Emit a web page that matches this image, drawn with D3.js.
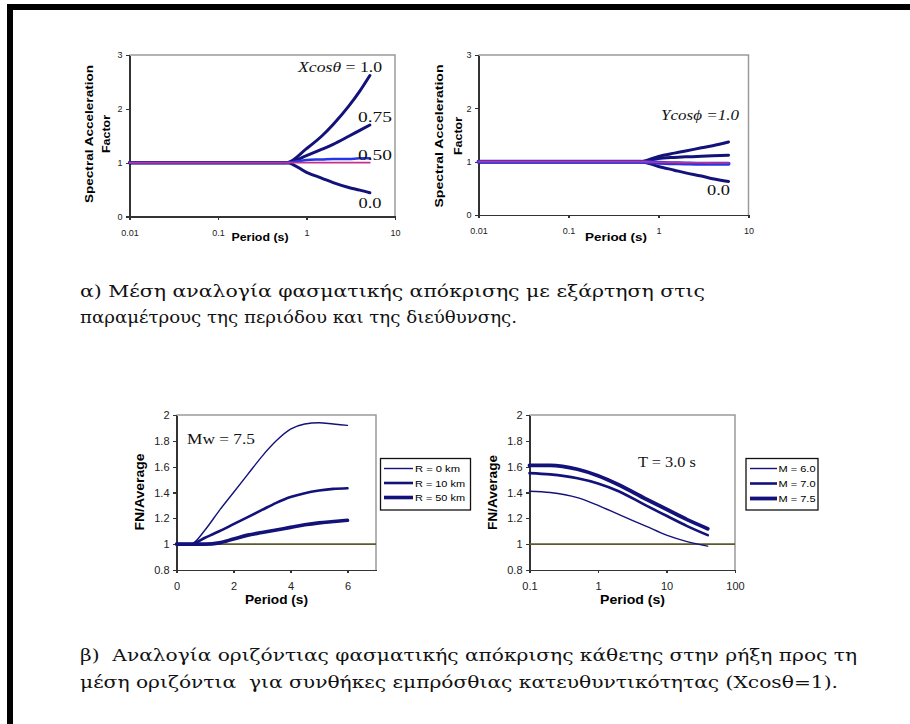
<!DOCTYPE html>
<meta charset="utf-8">
<style>
body { margin: 0; background: #fff; }
svg { display: block; font-family: Arial, "Liberation Sans", sans-serif; }
.axis path, .axis line { stroke: #333; stroke-width: 1.2; shape-rendering: crispEdges; }
.axis text { fill: #222; font-family: Arial, "Liberation Sans", sans-serif; }
.curve { fill: none; stroke-linecap: round; stroke-linejoin: round; }
.serif { font-family: "Liberation Serif", "DejaVu Serif", "Times New Roman", serif; fill: #111; }
.greek { font-family: "DejaVu Serif", "Liberation Serif", serif; fill: #111; }
</style>
<body>
<svg id="chart" width="910" height="724"></svg>
<script src="https://cdn.jsdelivr.net/npm/d3@7"></script>
<script>
// ---------- values ----------
// (a) left: spectral acceleration factor vs period, by Xcos(theta)
var periodsA = [0.01, 0.6, 1, 1.5, 2, 3, 4, 5.2];
var xcos100  = [1, 1, 1.26, 1.50, 1.71, 2.05, 2.33, 2.62];
var xcos075  = [1, 1, 1.13, 1.25, 1.34, 1.49, 1.60, 1.70];
var xcos050  = [1, 1, 1.05, 1.06, 1.07, 1.07, 1.08, 1.08];
var xcosRef  = [1, 1, 1, 1, 1, 1, 1, 1];
var xcos000  = [1, 1, 0.82, 0.71, 0.63, 0.54, 0.49, 0.44];

// (a) right: by Ycos(phi)
var periodsB = [0.01, 0.63, 1, 1.5, 2, 3, 4, 6];
var ycos100  = [1, 1, 1.10, 1.16, 1.20, 1.26, 1.30, 1.37];
var ycos075  = [1, 1, 1.06, 1.08, 1.09, 1.10, 1.11, 1.12];
var ycos050  = [1, 1, 0.98, 0.97, 0.965, 0.96, 0.96, 0.96];
var ycosRef  = [1, 1, 0.99, 0.985, 0.98, 0.98, 0.975, 0.975];
var ycos000  = [1, 1, 0.91, 0.84, 0.79, 0.73, 0.68, 0.63];

// (b) left: FN/Average vs period, Mw = 7.5
var periodsC = [0, 0.5, 1, 1.5, 2, 2.5, 3, 3.5, 4, 4.5, 5, 5.5, 6];
var r0km     = [1, 1.0, 1.11, 1.26, 1.40, 1.54, 1.68, 1.80, 1.89, 1.93, 1.94, 1.93, 1.92];
var r10km    = [1, 1.0, 1.05, 1.10, 1.155, 1.21, 1.265, 1.32, 1.365, 1.395, 1.415, 1.428, 1.433];
var r50km    = [1, 1.0, 1.0, 1.01, 1.04, 1.07, 1.09, 1.11, 1.13, 1.15, 1.165, 1.175, 1.185];

// (b) right: FN/Average vs distance, T = 3.0 s
var periodsD = [0.1, 0.2, 0.5, 1, 2, 5, 10, 20, 40];
var m60      = [1.41, 1.40, 1.36, 1.30, 1.23, 1.14, 1.07, 1.02, 0.985];
var m70      = [1.55, 1.54, 1.51, 1.47, 1.41, 1.30, 1.22, 1.14, 1.07];
var m75      = [1.61, 1.61, 1.58, 1.53, 1.46, 1.35, 1.27, 1.19, 1.12];

var logTicksTop  = [0.01, 0.1, 1, 10];
var logLabelsTop = ["0.01", "0.1", "1", "10"];
var factorTicks  = [0, 1, 2, 3];
var ratioTicks   = [0.8, 1, 1.2, 1.4, 1.6, 1.8, 2];
var ratioLabels  = ["0.8", "1", "1.2", "1.4", "1.6", "1.8", "2"];
var linTicks     = [0, 2, 4, 6];
var logTicksD    = [0.1, 1, 10, 100];
var logLabelsD   = ["0.1", "1", "10", "100"];
var legendC      = ["R = 0 km", "R = 10 km", "R = 50 km"];
var legendD      = ["M = 6.0", "M = 7.0", "M = 7.5"];

var navy = "#12127a", blue = "#2336e8", pink = "#c8308e", olive = "#5e5a2c";

var svg = d3.select("#chart");

// page frame (only top and left edges are drawn in the scan)
svg.append("rect").attr("x", 7).attr("y", 4).attr("width", 903).attr("height", 6).attr("fill", "#000");
svg.append("rect").attr("x", 7).attr("y", 4).attr("width", 6).attr("height", 720).attr("fill", "#000");

function label(g, s, x, y, o) {
  var t = g.append("text").attr("x", x).attr("y", y).text(s)
    .attr("font-size", o.size || 10)
    .attr("text-anchor", o.anchor || "start");
  if (o.bold) t.attr("font-weight", "bold");
  if (o.cls) t.attr("class", o.cls);
  if (o.width) t.attr("textLength", o.width).attr("lengthAdjust", "spacingAndGlyphs");
  if (o.rotate) t.attr("transform", "rotate(-90," + x + "," + y + ")");
  return t;
}

function panel(x, y, xTicks, xLabels, yTicks, yLabels, fs, xPad) {
  var g = svg.append("g");
  var x0 = x.range()[0], x1 = x.range()[1], y0 = y.range()[0], y1 = y.range()[1];
  // grey plot-area frame on top and right
  g.append("path").attr("d", "M" + x0 + "," + y1 + "H" + x1 + "V" + y0)
    .attr("fill", "none").attr("stroke", "#9a9a9a").attr("stroke-width", 1.5);
  g.append("g").attr("class", "axis").attr("transform", "translate(0," + y0 + ")")
    .call(d3.axisBottom(x).tickValues(xTicks).tickSize(3).tickPadding(xPad).tickSizeOuter(0)
      .tickFormat(function(d, i) { return xLabels[i]; }))
    .selectAll("text").attr("font-size", fs);
  g.append("g").attr("class", "axis").attr("transform", "translate(" + x0 + ",0)")
    .call(d3.axisLeft(y).tickValues(yTicks).tickSize(4).tickPadding(3).tickSizeOuter(0)
      .tickFormat(function(d, i) { return yLabels[i]; }))
    .selectAll("text").attr("font-size", fs);
  return g;
}

function curve(g, x, y, xs, ys, color, w) {
  var pts = xs.map(function(d, i) { return [d, ys[i]]; });
  g.append("path").attr("class", "curve")
    .attr("d", d3.line().x(function(d) { return x(d[0]); }).y(function(d) { return y(d[1]); })
      .curve(d3.curveMonotoneX)(pts))
    .attr("stroke", color).attr("stroke-width", w);
}

// ---------- (a) left ----------
var xA = d3.scaleLog().domain([0.01, 10]).range([129.5, 395]);
var yA = d3.scaleLinear().domain([0, 3]).range([216.5, 55]);
var gA = panel(xA, yA, logTicksTop, logLabelsTop, factorTicks, factorTicks.map(String), 9, 10);
curve(gA, xA, yA, periodsA, xcos100, navy, 3);
curve(gA, xA, yA, periodsA, xcos075, navy, 3);
curve(gA, xA, yA, periodsA, xcos000, navy, 3);
curve(gA, xA, yA, periodsA, xcos050, blue, 2.5);
curve(gA, xA, yA, periodsA, xcosRef, pink, 1.6);
label(gA, "Spectral Acceleration", 93, 134, {size: 11, bold: true, anchor: "middle", rotate: true, width: 138});
label(gA, "Factor", 110, 134, {size: 11, bold: true, anchor: "middle", rotate: true, width: 38});
label(gA, "Period (s)", 260, 240.5, {size: 11, bold: true, anchor: "middle", width: 57});
var tA = label(gA, "", 298, 71.5, {size: 15, cls: "serif", width: 84});
tA.append("tspan").attr("font-style", "italic").text("Xcos\u03b8");
tA.append("tspan").text(" = 1.0");
label(gA, "0.75", 358, 121.5, {size: 15, cls: "serif", width: 34});
label(gA, "0.50", 358, 160, {size: 15, cls: "serif", width: 34});
label(gA, "0.0", 358.5, 208, {size: 15, cls: "serif", width: 23});

// ---------- (a) right ----------
var xB = d3.scaleLog().domain([0.01, 10]).range([478.5, 748.5]);
var yB = d3.scaleLinear().domain([0, 3]).range([215, 55]);
var gB = panel(xB, yB, logTicksTop, logLabelsTop, factorTicks, factorTicks.map(String), 9, 10);
curve(gB, xB, yB, periodsB, ycos100, navy, 3);
curve(gB, xB, yB, periodsB, ycos075, navy, 3);
curve(gB, xB, yB, periodsB, ycos000, navy, 3);
curve(gB, xB, yB, periodsB, ycos050, blue, 4);
curve(gB, xB, yB, periodsB, ycosRef, pink, 1.6);
label(gB, "Spectral Acceleration", 443, 136, {size: 11, bold: true, anchor: "middle", rotate: true, width: 143});
label(gB, "Factor", 461.5, 136, {size: 11, bold: true, anchor: "middle", rotate: true, width: 38});
label(gB, "Period (s)", 616, 240.5, {size: 11, bold: true, anchor: "middle", width: 62});
label(gB, "Ycos\u03d5 =1.0", 661, 120, {size: 15, cls: "serif", width: 78}).attr("font-style", "italic");
label(gB, "0.0", 707, 195, {size: 15, cls: "serif", width: 23});

// ---------- caption (a) ----------
label(svg, "\u03b1) \u039c\u03ad\u03c3\u03b7 \u03b1\u03bd\u03b1\u03bb\u03bf\u03b3\u03af\u03b1 \u03c6\u03b1\u03c3\u03bc\u03b1\u03c4\u03b9\u03ba\u03ae\u03c2 \u03b1\u03c0\u03cc\u03ba\u03c1\u03b9\u03c3\u03b7\u03c2 \u03bc\u03b5 \u03b5\u03be\u03ac\u03c1\u03c4\u03b7\u03c3\u03b7 \u03c3\u03c4\u03b9\u03c2",
  80, 297, {size: 17, cls: "greek", width: 625});
label(svg, "\u03c0\u03b1\u03c1\u03b1\u03bc\u03ad\u03c4\u03c1\u03bf\u03c5\u03c2 \u03c4\u03b7\u03c2 \u03c0\u03b5\u03c1\u03b9\u03cc\u03b4\u03bf\u03c5 \u03ba\u03b1\u03b9 \u03c4\u03b7\u03c2 \u03b4\u03b9\u03b5\u03cd\u03b8\u03c5\u03bd\u03c3\u03b7\u03c2.",
  80, 323, {size: 17, cls: "greek", width: 437});

// ---------- (b) left ----------
var xC = d3.scaleLinear().domain([0, 7]).range([176.5, 376]);
var yC = d3.scaleLinear().domain([0.8, 2]).range([570, 415]);
var gC = panel(xC, yC, linTicks, linTicks.map(String), ratioTicks, ratioLabels, 11, 9);
gC.append("line").attr("x1", xC(0)).attr("x2", xC(7)).attr("y1", yC(1)).attr("y2", yC(1))
  .attr("stroke", olive).attr("stroke-width", 1.6);
curve(gC, xC, yC, periodsC, r0km, navy, 1.4);
curve(gC, xC, yC, periodsC, r10km, navy, 2.6);
curve(gC, xC, yC, periodsC, r50km, navy, 3.6);
label(gC, "FN/Average", 144, 492, {size: 12, bold: true, anchor: "middle", rotate: true, width: 77});
label(gC, "Period (s)", 276.5, 603.5, {size: 12, bold: true, anchor: "middle", width: 63});
label(gC, "Mw = 7.5", 187, 443.5, {size: 15, cls: "serif", width: 68});

var lgC = gC.append("g");
lgC.append("rect").attr("x", 380.5).attr("y", 458.5).attr("width", 90).attr("height", 51.5)
  .attr("fill", "#fff").attr("stroke", "#111").attr("stroke-width", 1.3);
legendC.forEach(function(s, i) {
  var yy = 468.5 + i * 14.5;
  lgC.append("line").attr("x1", 384).attr("x2", 413).attr("y1", yy).attr("y2", yy)
    .attr("stroke", navy).attr("stroke-width", [1.4, 2.6, 3.6][i]);
  label(lgC, s, 415, yy + 3.5, {size: 9, width: i ? 50 : 45});
});

// ---------- (b) right ----------
var xD = d3.scaleLog().domain([0.1, 100]).range([529.5, 735]);
var yD = d3.scaleLinear().domain([0.8, 2]).range([570, 415]);
var gD = panel(xD, yD, logTicksD, logLabelsD, ratioTicks, ratioLabels, 11, 9);
gD.append("line").attr("x1", xD(0.1)).attr("x2", xD(100)).attr("y1", yD(1)).attr("y2", yD(1))
  .attr("stroke", olive).attr("stroke-width", 1.6);
curve(gD, xD, yD, periodsD, m60, navy, 1.4);
curve(gD, xD, yD, periodsD, m70, navy, 2.6);
curve(gD, xD, yD, periodsD, m75, navy, 3.8);
label(gD, "FN/Average", 497, 492.5, {size: 12, bold: true, anchor: "middle", rotate: true, width: 75});
label(gD, "Period (s)", 632.5, 603.5, {size: 12, bold: true, anchor: "middle", width: 65});
label(gD, "T = 3.0 s", 638, 466.5, {size: 15, cls: "serif", width: 58});

var lgD = gD.append("g");
lgD.append("rect").attr("x", 746).attr("y", 458.5).attr("width", 72).attr("height", 51.5)
  .attr("fill", "#fff").attr("stroke", "#111").attr("stroke-width", 1.3);
legendD.forEach(function(s, i) {
  var yy = 468.5 + i * 15;
  lgD.append("line").attr("x1", 750).attr("x2", 777).attr("y1", yy).attr("y2", yy)
    .attr("stroke", navy).attr("stroke-width", [1.4, 2.6, 3.8][i]);
  label(lgD, s, 778.5, yy + 3.5, {size: 9, width: 37});
});

// ---------- caption (b) ----------
label(svg, "\u03b2)  \u0391\u03bd\u03b1\u03bb\u03bf\u03b3\u03af\u03b1 \u03bf\u03c1\u03b9\u03b6\u03cc\u03bd\u03c4\u03b9\u03b1\u03c2 \u03c6\u03b1\u03c3\u03bc\u03b1\u03c4\u03b9\u03ba\u03ae\u03c2 \u03b1\u03c0\u03cc\u03ba\u03c1\u03b9\u03c3\u03b7\u03c2 \u03ba\u03ac\u03b8\u03b5\u03c4\u03b7\u03c2 \u03c3\u03c4\u03b7\u03bd \u03c1\u03ae\u03be\u03b7 \u03c0\u03c1\u03bf\u03c2 \u03c4\u03b7",
  80, 661, {size: 17, cls: "greek", width: 777}).style("white-space", "pre");
label(svg, "\u03bc\u03ad\u03c3\u03b7 \u03bf\u03c1\u03b9\u03b6\u03cc\u03bd\u03c4\u03b9\u03b1  \u03b3\u03b9\u03b1 \u03c3\u03c5\u03bd\u03b8\u03ae\u03ba\u03b5\u03c2 \u03b5\u03bc\u03c0\u03c1\u03cc\u03c3\u03b8\u03b9\u03b1\u03c2 \u03ba\u03b1\u03c4\u03b5\u03c5\u03b8\u03c5\u03bd\u03c4\u03b9\u03ba\u03cc\u03c4\u03b7\u03c4\u03b1\u03c2 (Xcos\u03b8=1).",
  80, 688, {size: 17, cls: "greek", width: 758}).style("white-space", "pre");
</script>
</body>
